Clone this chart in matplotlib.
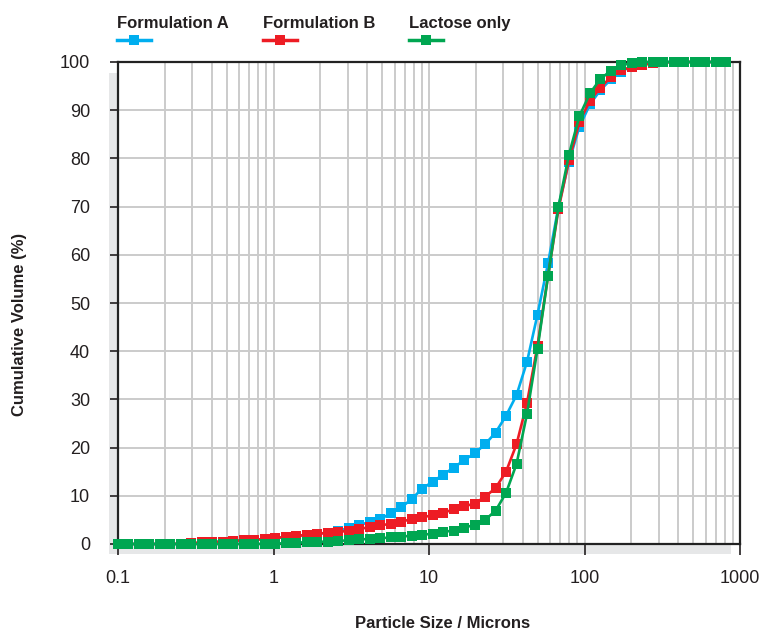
import matplotlib
matplotlib.use('Agg')
import matplotlib.pyplot as plt
from matplotlib.lines import Line2D
from matplotlib.patches import Rectangle
from matplotlib.ticker import LogLocator, NullFormatter

plt.rcParams['font.family'] = ['Liberation Sans', 'DejaVu Sans']

# Particle size classes (microns)
sizes = [
    0.1, 0.1168, 0.1364, 0.1593, 0.1861, 0.2174, 0.2539, 0.2966, 0.3464, 0.4046,
    0.4726, 0.5520, 0.6447, 0.7530, 0.8795, 1.027, 1.200, 1.401, 1.637, 1.912,
    2.233, 2.608, 3.046, 3.558, 4.156, 4.854, 5.670, 6.622, 7.735, 9.034,
    10.55, 12.32, 14.39, 16.81, 19.64, 22.94, 26.79, 31.29, 36.55, 42.69,
    49.86, 58.24, 68.02, 79.45, 92.80, 108.4, 126.6, 147.9, 172.7, 201.7,
    235.6, 275.2, 321.4, 375.4, 438.5, 512.1, 598.2, 698.7, 816.0,
]

formulation_a = [
    0, 0, 0, 0, 0, 0, 0, 0, 0.3, 0.4,
    0.5, 0.6, 0.75, 0.9, 1.0, 1.2, 1.45, 1.65, 1.85, 2.1,
    2.35, 2.75, 3.3, 3.9, 4.6, 5.1, 6.4, 7.6, 9.3, 11.5,
    12.9, 14.4, 15.8, 17.4, 18.8, 20.7, 23.1, 26.6, 30.9, 37.8,
    47.6, 58.2, 70.0, 79.3, 86.6, 91.2, 94.2, 96.4, 98.0, 99.2,
    99.6, 99.9, 100, 100, 100, 100, 100, 100, 100,
]

formulation_b = [
    0, 0, 0, 0, 0, 0, 0.1, 0.2, 0.35, 0.45,
    0.5, 0.65, 0.8, 0.9, 1.0, 1.2, 1.5, 1.7, 1.9, 2.1,
    2.35, 2.55, 2.7, 3.1, 3.5, 3.85, 4.2, 4.6, 5.2, 5.55,
    5.95, 6.45, 7.2, 7.8, 8.4, 9.8, 11.6, 15.0, 20.7, 29.3,
    41.1, 55.6, 69.5, 79.6, 87.6, 92.0, 94.7, 96.9, 98.3, 99.0,
    99.4, 99.7, 99.9, 100, 100, 100, 100, 100, 100,
]

lactose_only = [
    0, 0, 0, 0, 0, 0, 0, 0, 0, 0,
    0, 0, 0, 0, 0.05, 0.1, 0.15, 0.25, 0.4, 0.45,
    0.5, 0.65, 0.75, 0.95, 1.05, 1.2, 1.35, 1.5, 1.75, 1.95,
    2.1, 2.5, 2.8, 3.4, 3.95, 5.0, 6.9, 10.6, 16.6, 27.0,
    40.5, 55.5, 70.0, 80.8, 88.8, 93.5, 96.5, 98.2, 99.4, 99.7,
    100, 100, 100, 100, 100, 100, 100, 100, 100,
]

series_names = ['Formulation A', 'Formulation B', 'Lactose only']
series_colors = ['#00AEEF', '#ED1C24', '#00A651']
text_color = '#231F20'

fig = plt.figure(figsize=(7.62, 6.33), dpi=100)
W, H = 762, 633

# Axes placed in pixel terms.
left, right, top, bottom = 118, 740, 62, 544
ax = fig.add_axes([left / W, 1 - bottom / H, (right - left) / W, (bottom - top) / H])

# Grey drop shadow behind the plot area.
fig.add_artist(Rectangle(
        (109 / W, 1 - 554 / H), (731 - 109) / W, (554 - 73) / H,
        transform=fig.transFigure, facecolor='#E6E7E8', edgecolor='none',
        zorder=0,
))
ax.set_zorder(1)

for ys, color in zip([formulation_a, formulation_b, lactose_only], series_colors):
    ax.plot(
            sizes, ys,
            color=color,
            linewidth=1.9,
            marker='s',
            markersize=6.5,
            markeredgewidth=0,
            clip_on=False,
            zorder=3,
    )

ax.set_xscale('log')
ax.set_xlim(0.1, 1000)
ax.set_ylim(0, 100)
ax.set_yticks(range(0, 101, 10))
ax.set_xticks([0.1, 1, 10, 100, 1000])
ax.set_xticklabels(['0.1', '1', '10', '100', '1000'])
ax.xaxis.set_minor_locator(LogLocator(base=10, subs=range(2, 10)))
ax.xaxis.set_minor_formatter(NullFormatter())

ax.grid(True, which='both', axis='x', color='#CBCBCB', linewidth=1.4)
ax.grid(True, which='major', axis='y', color='#CBCBCB', linewidth=1.4)
ax.set_axisbelow(True)

for spine in ax.spines.values():
    spine.set_color('#222222')
    spine.set_linewidth(1.6)

ax.tick_params(axis='x', which='major', direction='out', length=8, width=1.2,
               pad=11, labelsize=13, colors=text_color)
ax.tick_params(axis='x', which='minor', length=0)
ax.tick_params(axis='y', which='major', direction='out', length=6, width=1.2,
               pad=14, labelsize=13, colors=text_color)

# Axis titles, placed where the reference has them.
fig.text(443 / W, 1 - 623 / H, 'Particle Size / Microns', fontsize=12,
         fontweight='bold', color=text_color, ha='center', va='center')
fig.text(20 / W, 1 - 324 / H, 'Cumulative Volume (%)', fontsize=12,
         fontweight='bold', color=text_color, ha='center', va='center',
         rotation=90)

# Legend across the top.
legend_x = [117, 263, 409]
for x0, name, color in zip(legend_x, series_names, series_colors):
    fig.text(x0 / W, 1 - 28 / H, name, fontsize=12, fontweight='bold',
             color=text_color, ha='left', va='baseline')
    fig.add_artist(Line2D(
            [x0 / W, (x0 + 34) / W], [1 - 40 / H, 1 - 40 / H],
            transform=fig.transFigure, color=color, linewidth=2.5,
    ))
    fig.add_artist(Line2D(
            [(x0 + 17) / W], [1 - 40 / H],
            transform=fig.transFigure, color=color, marker='s',
            markersize=6.5, markeredgewidth=0,
    ))

fig.savefig('out.png', dpi=100)
